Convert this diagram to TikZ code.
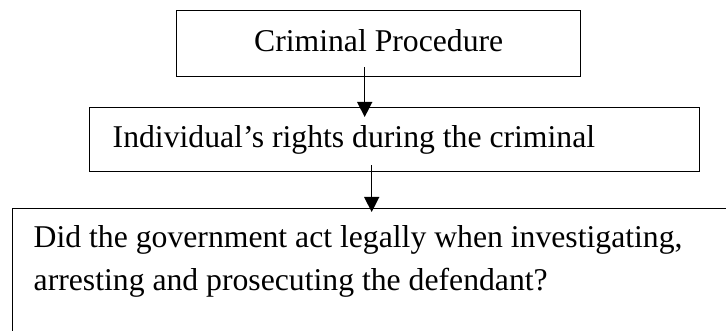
\documentclass[tikz,border=0pt]{standalone}
\usepackage{fontspec}
\setmainfont{Liberation Serif}
\usetikzlibrary{arrows.meta}
\begin{document}
\begin{tikzpicture}[x=1pt, y=-1pt,
        box/.style={draw, line width=1.4pt, inner ysep=0pt, font=\fontsize{31.7}{43}\selectfont},
        flow/.style={line width=1.4pt, -{Triangle[width=15pt, length=15pt]}}]
        \path[use as bounding box, clip] (0,0) rectangle (726,331);
        \node[box, anchor=north west, minimum width=404pt, inner xsep=0pt, text height=41pt, text depth=25pt] (proc) at (176,10) {Criminal Procedure};
        \node[box, anchor=north west, inner xsep=23pt, text width=564pt, align=flush left, text height=40pt, text depth=24pt] (rights) at (89,107) {Individual’s rights during the criminal};
        % last box runs past the page edge
        \node[box, anchor=north west, inner xsep=21pt, text width=760pt, align=flush left, text height=39pt, text depth=90pt] (question) at (12,208) {Did the government act legally when investigating,\\arresting and prosecuting the defendant?};
        \draw[flow] ([xshift=-14pt, yshift=10pt]proc.south) -- ([xshift=-14pt, yshift=-10pt]proc.south |- rights.north);
        \draw[flow] ([xshift=-23pt, yshift=7pt]rights.south) -- ([xshift=-23pt, yshift=-4pt]rights.south |- question.north);
    \end{tikzpicture}
\end{document}
